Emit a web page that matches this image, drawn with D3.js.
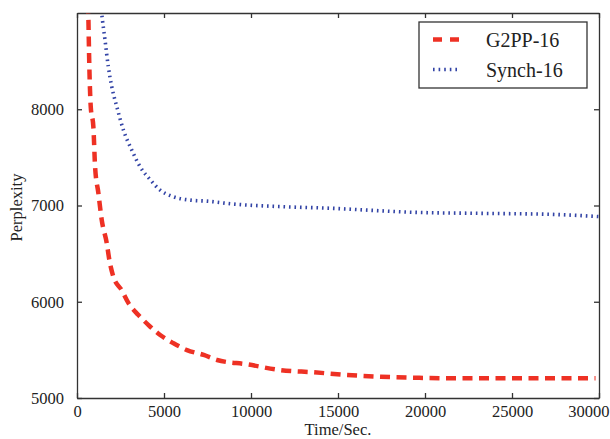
<!DOCTYPE html>
<html>
<head>
    <title>Perplexity vs Time</title>
    <script src="https://d3js.org/d3.v7.min.js"></script>
    <style>
        body { margin: 0; background: #fff; }
        .axis path, .axis line { stroke: #333; stroke-width: 1.3; }
    </style>
</head>
<body>
    <div class="chart"></div>
    <script>
        // Data (time in seconds, perplexity)
        const g2ppTime = [640, 650, 710, 790, 940, 1040, 1230, 1420, 1710, 1860, 2090, 2570, 2960, 3530, 4110, 4780, 5550, 6320, 7280, 8050, 9770, 11690, 13610, 15530, 17450, 19370, 21300, 25000, 29800];
        const g2ppPerp = [9100, 9000, 8440, 8025, 7818, 7400, 7128, 6850, 6610, 6433, 6260, 6120, 5985, 5862, 5758, 5654, 5568, 5498, 5447, 5395, 5350, 5290, 5267, 5239, 5221, 5211, 5205, 5205, 5205];
        const synchTime = [1400, 1420, 1610, 1800, 2000, 2290, 2670, 3150, 3630, 4200, 4780, 5550, 6510, 7470, 9000, 11880, 14760, 16680, 19560, 23400, 27240, 30000];
        const synchPerp = [9030, 8995, 8718, 8440, 8233, 8025, 7783, 7575, 7402, 7270, 7160, 7090, 7056, 7045, 7015, 6987, 6970, 6952, 6928, 6918, 6908, 6885];
        const xTicks = [0, 5000, 10000, 15000, 20000, 25000, 30000];
        const yTicks = [5000, 6000, 7000, 8000];
        const seriesNames = ["G2PP-16", "Synch-16"];

        const FONT = "'Liberation Serif', 'Times New Roman', serif";

        const series = [
            {name: seriesNames[0], pts: g2ppTime.map((t, i) => [t, g2ppPerp[i]]), color: "#ee3124", width: 4.5, dash: "10,6.5"},
            {name: seriesNames[1], pts: synchTime.map((t, i) => [t, synchPerp[i]]), color: "#3344a6", width: 3.6, dash: "1.6,3.9"}
        ];

        // Chart dimensions
        const W = 610, H = 439;
        const margin = {top: 13, right: 11, bottom: 41, left: 77};
        const width = W - margin.left - margin.right;
        const height = H - margin.top - margin.bottom;

        const svg = d3.select(".chart").append("svg")
            .attr("width", W)
            .attr("height", H)
            .style("display", "block")
            .append("g")
            .attr("transform", `translate(${margin.left}, ${margin.top})`);

        const x = d3.scaleLinear().domain([0, 30000]).range([0, width]);
        const y = d3.scaleLinear().domain([5000, 9000]).range([height, 0]);
        const fmt = d3.format("d");

        const styleTicks = g => g.attr("font-family", FONT).attr("font-size", 16.5)
            .selectAll("text").attr("fill", "#222");

        // Axes with inward ticks, mirrored on top and right
        svg.append("g").attr("class", "axis")
            .attr("transform", `translate(0, ${height})`)
            .call(d3.axisBottom(x).tickValues(xTicks).tickFormat(fmt).tickSizeInner(-5).tickSizeOuter(0).tickPadding(8))
            .call(styleTicks)
            .call(g => g.selectAll("text").attr("dy", "0.68em"))
            // last label sits flush with the right edge, as in the original
            .call(g => g.selectAll("text").filter(d => d === 30000).attr("text-anchor", "end").attr("x", 10));
        svg.append("g").attr("class", "axis")
            .call(d3.axisLeft(y).tickValues(yTicks).tickFormat(fmt).tickSizeInner(-5).tickSizeOuter(0).tickPadding(13))
            .call(styleTicks);
        svg.append("g").attr("class", "axis")
            .call(d3.axisTop(x).tickValues(xTicks).tickSizeInner(-5).tickSizeOuter(0).tickFormat(""));
        svg.append("g").attr("class", "axis")
            .attr("transform", `translate(${width}, 0)`)
            .call(d3.axisRight(y).tickValues(yTicks).tickSizeInner(-5).tickSizeOuter(0).tickFormat(""));

        // Clip lines to the plotting area
        svg.append("clipPath").attr("id", "clip")
            .append("rect").attr("width", width).attr("height", height);

        const line = d3.line()
            .x(d => x(d[0]))
            .y(d => y(d[1]))
            .curve(d3.curveMonotoneX);

        svg.append("g").attr("clip-path", "url(#clip)")
            .selectAll("path")
            .data(series)
            .enter()
            .append("path")
            .attr("d", d => line(d.pts))
            .attr("fill", "none")
            .attr("stroke", d => d.color)
            .attr("stroke-width", d => d.width)
            .attr("stroke-dasharray", d => d.dash);

        // Axis labels
        svg.append("text")
            .attr("x", width / 2)
            .attr("y", height + 37)
            .attr("text-anchor", "middle")
            .attr("font-family", FONT)
            .attr("font-size", 16.5)
            .attr("fill", "#222")
            .text("Time/Sec.");

        svg.append("text")
            .attr("transform", `translate(${-55}, ${height / 2 + 2}) rotate(-90)`)
            .attr("text-anchor", "middle")
            .attr("font-family", FONT)
            .attr("font-size", 16.5)
            .attr("fill", "#222")
            .text("Perplexity");

        // Legend
        const legend = svg.append("g").attr("transform", `translate(${419 - margin.left}, ${22 - margin.top})`);
        legend.append("rect")
            .attr("width", 168)
            .attr("height", 66)
            .attr("fill", "#fff")
            .attr("stroke", "#333")
            .attr("stroke-width", 1.3);

        const item = legend.selectAll(".item")
            .data(series)
            .enter()
            .append("g")
            .attr("transform", (d, i) => `translate(0, ${17.5 + i * 30})`);
        item.append("line")
            .attr("x1", 14).attr("x2", 42)
            .attr("stroke", d => d.color)
            .attr("stroke-width", d => d.width)
            .attr("stroke-dasharray", (d, i) => i === 0 ? "9,8" : "1.6,4");
        item.append("text")
            .attr("x", 67)
            .attr("y", 7.5)
            .attr("font-family", FONT)
            .attr("font-size", 20)
            .attr("fill", "#222")
            .text(d => d.name);
    </script>
</body>
</html>
